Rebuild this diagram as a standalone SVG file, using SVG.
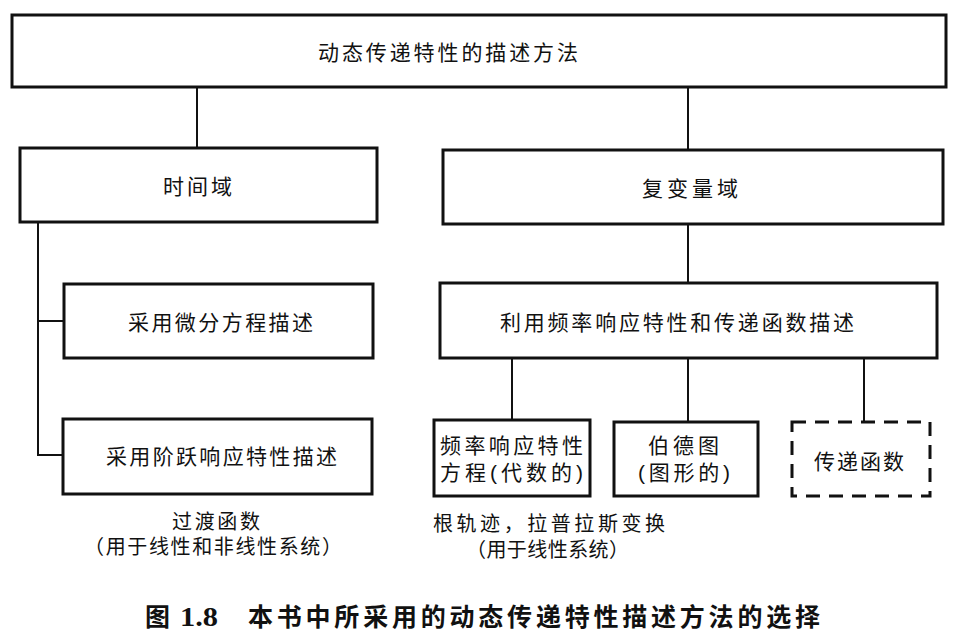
<svg xmlns="http://www.w3.org/2000/svg" width="964" height="642" viewBox="0 0 964 642">
<style>
.box{fill:#fff;stroke:#111;stroke-width:3}
.dash{fill:#fff;stroke:#111;stroke-width:3;stroke-dasharray:14 9}
.ln{fill:none;stroke:#111;stroke-width:2}
text{font-family:"Liberation Sans","Noto Sans CJK SC","Noto Sans CJK JP",sans-serif;font-size:21px;fill:#111}
.note{font-size:20px}
.cap{font-size:25px;font-weight:bold}
.num{font-family:"Liberation Serif","Noto Sans CJK SC",serif;font-size:27px;font-weight:bold}
</style>
<rect width="964" height="642" fill="#fff"/>
<g id="connectors">
<path class="ln" d="M197 87V148M688 87V150M38 222V455H63M38 321H64M688 224V283M512 358V420M688 358V422M864 358V422"/>
</g>
<g id="n-top"><rect class="box" x="12" y="15" width="934" height="72"/><text x="318" y="60" textLength="260" lengthAdjust="spacing">动态传递特性的描述方法</text></g>
<g id="n-time"><rect class="box" x="20" y="148" width="357" height="74"/><text x="163" y="194" textLength="69" lengthAdjust="spacing">时间域</text></g>
<g id="n-complex"><rect class="box" x="443" y="150" width="500" height="74"/><text x="642" y="196" textLength="96" lengthAdjust="spacing">复变量域</text></g>
<g id="n-diff"><rect class="box" x="64" y="284" width="309" height="74"/><text x="128" y="330" textLength="185" lengthAdjust="spacing">采用微分方程描述</text></g>
<g id="n-step"><rect class="box" x="63" y="419" width="309" height="75"/><text x="106" y="464" textLength="231" lengthAdjust="spacing">采用阶跃响应特性描述</text></g>
<g id="n-step-note"><text class="note" x="172" y="529" textLength="88" lengthAdjust="spacing">过渡函数</text><text class="note" x="84" y="554" textLength="258" lengthAdjust="spacing">（用于线性和非线性系统）</text></g>
<g id="n-freq"><rect class="box" x="440" y="283" width="497" height="75"/><text x="500" y="330" textLength="354" lengthAdjust="spacing">利用频率响应特性和传递函数描述</text></g>
<g id="n-freqeq"><rect class="box" x="434" y="420" width="156" height="76"/><text x="440" y="453" textLength="143" lengthAdjust="spacing">频率响应特性</text><text x="440" y="480" textLength="143" lengthAdjust="spacing">方程(代数的)</text></g>
<g id="n-bode"><rect class="box" x="614" y="422" width="144" height="74"/><text x="648" y="453" textLength="71" lengthAdjust="spacing">伯德图</text><text x="638" y="480" textLength="92" lengthAdjust="spacing">(图形的)</text></g>
<g id="n-tf"><rect class="dash" x="792" y="422" width="138" height="74"/><text x="814" y="469" textLength="90" lengthAdjust="spacing">传递函数</text></g>
<g id="n-freq-note"><text class="note" x="433" y="531" textLength="232" lengthAdjust="spacing">根轨迹，拉普拉斯变换</text><text class="note" x="466" y="557" textLength="163" lengthAdjust="spacing">（用于线性系统）</text></g>
<g id="caption"><text class="cap" x="145" y="626">图</text><text class="num" x="180" y="626" textLength="38" lengthAdjust="spacingAndGlyphs">1.8</text><text class="cap" x="248" y="626" textLength="572" lengthAdjust="spacing">本书中所采用的动态传递特性描述方法的选择</text></g>
</svg>
